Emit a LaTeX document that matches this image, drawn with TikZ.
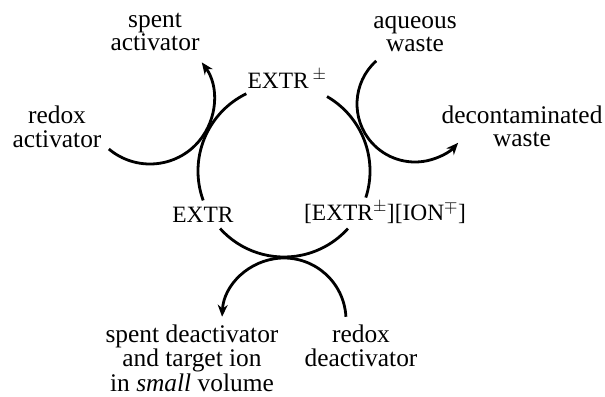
\documentclass[tikz,border=0pt]{standalone}
\usepackage{fontspec}
\setmainfont{Liberation Serif}
\usetikzlibrary{arrows.meta}
\newcommand{\lblstack}[1]{\begin{tabular}[t]{@{}c@{}}#1\end{tabular}}
\begin{document}
\begin{tikzpicture}[x=1bp,y=1bp,
  flow/.style={line width=2.8bp},
  arr/.style={flow,-{Stealth[length=12bp,width=10bp]}},
  lbl/.style={inner sep=0pt,anchor=base,font=\fontsize{25.5}{24}\selectfont},
  chem/.style={inner sep=0pt,anchor=base,font=\fontsize{23.5}{24}\selectfont}]
\useasboundingbox (0,0) rectangle (605,-396);
% circle centres
\coordinate (M) at (284,-171);
\coordinate (A) at (150,-100);
\coordinate (W) at (415,-104);
\coordinate (D) at (284,-320);
% main cycle
\draw[flow] (M) ++(116:86) arc[start angle=116,end angle=200,radius=86];
\draw[flow] (M) ++(222:86) arc[start angle=222,end angle=318,radius=86];
\draw[flow] (M) ++(-18:86) arc[start angle=-18,end angle=60,radius=86];
% reagent arcs
\draw[arr] (A) ++(230:64) arc[start angle=230,end angle=396,radius=64];
\draw[arr] (W) ++(132:58) arc[start angle=132,end angle=318,radius=58];
\draw[arr] (D) ++(3:62) arc[start angle=3,end angle=177,radius=62];
% labels
\node[lbl] (sa) at (155,-27) {\lblstack{spent\\activator}};
\node[lbl] (ra) at (57,-123) {\lblstack{redox\\activator}};
\node[lbl] (aw) at (415,-28) {\lblstack{aqueous\\waste}};
\node[lbl] (dw) at (522,-123) {\lblstack{decontaminated\\waste}};
\node[lbl] (sd) at (192,-342) {\lblstack{spent deactivator\\and target ion\\in \textit{small} volume}};
\node[lbl] (rd) at (361,-342) {\lblstack{redox\\deactivator}};
\node[chem] (e1) at (287,-88) {EXTR\,$^{\pm}$};
\node[chem] (e2) at (203,-222) {EXTR};
\node[chem] (e3) at (385,-220) {[EXTR$^{\pm}$][ION$^{\mp}$]};
\end{tikzpicture}
\end{document}
